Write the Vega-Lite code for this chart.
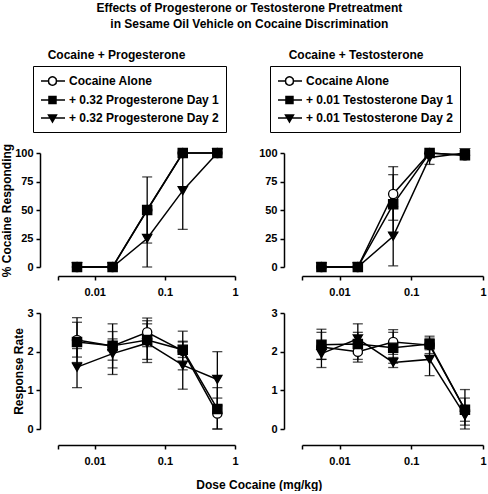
{
  "$schema": "https://vega.github.io/schema/vega-lite/v6.json",
  "padding": {"left": 0, "top": 1, "right": 0, "bottom": 0},
  "title": {"text": ["Effects of Progesterone or Testosterone Pretreatment", "in Sesame Oil Vehicle on Cocaine Discrimination"], "anchor": "middle", "fontSize": 12, "lineHeight": 16, "offset": 18, "dx": 6},
  "datasets": {
    "d": [
      {"h": "P", "m": "pct", "s": "Cocaine Alone", "dose": 0.0056, "v": 0},
      {"h": "P", "m": "pct", "s": "Cocaine Alone", "dose": 0.018, "v": 0},
      {"h": "P", "m": "pct", "s": "Cocaine Alone", "dose": 0.056, "v": 50},
      {"h": "P", "m": "pct", "s": "Cocaine Alone", "dose": 0.18, "v": 100},
      {"h": "P", "m": "pct", "s": "Cocaine Alone", "dose": 0.56, "v": 100},
      {"h": "P", "m": "pct", "s": "+ 0.32 Progesterone Day 1", "dose": 0.0056, "v": 0},
      {"h": "P", "m": "pct", "s": "+ 0.32 Progesterone Day 1", "dose": 0.018, "v": 0},
      {"h": "P", "m": "pct", "s": "+ 0.32 Progesterone Day 1", "dose": 0.056, "v": 50, "lo": 21, "hi": 79},
      {"h": "P", "m": "pct", "s": "+ 0.32 Progesterone Day 1", "dose": 0.18, "v": 100},
      {"h": "P", "m": "pct", "s": "+ 0.32 Progesterone Day 1", "dose": 0.56, "v": 100},
      {"h": "P", "m": "pct", "s": "+ 0.32 Progesterone Day 2", "dose": 0.0056, "v": 0},
      {"h": "P", "m": "pct", "s": "+ 0.32 Progesterone Day 2", "dose": 0.018, "v": 0},
      {"h": "P", "m": "pct", "s": "+ 0.32 Progesterone Day 2", "dose": 0.056, "v": 25, "lo": 0, "hi": 50},
      {"h": "P", "m": "pct", "s": "+ 0.32 Progesterone Day 2", "dose": 0.18, "v": 67, "lo": 33, "hi": 100},
      {"h": "P", "m": "pct", "s": "+ 0.32 Progesterone Day 2", "dose": 0.56, "v": 100},

      {"h": "T", "m": "pct", "s": "Cocaine Alone", "dose": 0.0056, "v": 0},
      {"h": "T", "m": "pct", "s": "Cocaine Alone", "dose": 0.018, "v": 0},
      {"h": "T", "m": "pct", "s": "Cocaine Alone", "dose": 0.056, "v": 64, "lo": 41, "hi": 88},
      {"h": "T", "m": "pct", "s": "Cocaine Alone", "dose": 0.18, "v": 100},
      {"h": "T", "m": "pct", "s": "Cocaine Alone", "dose": 0.56, "v": 98},
      {"h": "T", "m": "pct", "s": "+ 0.01 Testosterone Day 1", "dose": 0.0056, "v": 0},
      {"h": "T", "m": "pct", "s": "+ 0.01 Testosterone Day 1", "dose": 0.018, "v": 0},
      {"h": "T", "m": "pct", "s": "+ 0.01 Testosterone Day 1", "dose": 0.056, "v": 55, "lo": 30, "hi": 81},
      {"h": "T", "m": "pct", "s": "+ 0.01 Testosterone Day 1", "dose": 0.18, "v": 100},
      {"h": "T", "m": "pct", "s": "+ 0.01 Testosterone Day 1", "dose": 0.56, "v": 98},
      {"h": "T", "m": "pct", "s": "+ 0.01 Testosterone Day 2", "dose": 0.0056, "v": 0},
      {"h": "T", "m": "pct", "s": "+ 0.01 Testosterone Day 2", "dose": 0.018, "v": 0},
      {"h": "T", "m": "pct", "s": "+ 0.01 Testosterone Day 2", "dose": 0.056, "v": 27, "lo": 1, "hi": 53},
      {"h": "T", "m": "pct", "s": "+ 0.01 Testosterone Day 2", "dose": 0.18, "v": 96, "lo": 90, "hi": 100},
      {"h": "T", "m": "pct", "s": "+ 0.01 Testosterone Day 2", "dose": 0.56, "v": 100},

      {"h": "P", "m": "rate", "s": "Cocaine Alone", "dose": 0.0056, "v": 2.3, "lo": 1.72, "hi": 2.88},
      {"h": "P", "m": "rate", "s": "Cocaine Alone", "dose": 0.018, "v": 2.15, "lo": 1.58, "hi": 2.72},
      {"h": "P", "m": "rate", "s": "Cocaine Alone", "dose": 0.056, "v": 2.5, "lo": 2.13, "hi": 2.87},
      {"h": "P", "m": "rate", "s": "Cocaine Alone", "dose": 0.18, "v": 2.02, "lo": 1.53, "hi": 2.53},
      {"h": "P", "m": "rate", "s": "Cocaine Alone", "dose": 0.56, "v": 0.4, "lo": 0, "hi": 0.8},
      {"h": "P", "m": "rate", "s": "+ 0.32 Progesterone Day 1", "dose": 0.0056, "v": 2.25, "lo": 1.86, "hi": 2.76},
      {"h": "P", "m": "rate", "s": "+ 0.32 Progesterone Day 1", "dose": 0.018, "v": 2.15, "lo": 1.78, "hi": 2.52},
      {"h": "P", "m": "rate", "s": "+ 0.32 Progesterone Day 1", "dose": 0.056, "v": 2.3, "lo": 1.8, "hi": 2.8},
      {"h": "P", "m": "rate", "s": "+ 0.32 Progesterone Day 1", "dose": 0.18, "v": 2.05, "lo": 1.85, "hi": 2.25},
      {"h": "P", "m": "rate", "s": "+ 0.32 Progesterone Day 1", "dose": 0.56, "v": 0.52, "lo": 0, "hi": 1.07},
      {"h": "P", "m": "rate", "s": "+ 0.32 Progesterone Day 2", "dose": 0.0056, "v": 1.6, "lo": 1.07, "hi": 2.08},
      {"h": "P", "m": "rate", "s": "+ 0.32 Progesterone Day 2", "dose": 0.018, "v": 1.95, "lo": 1.41, "hi": 2.33},
      {"h": "P", "m": "rate", "s": "+ 0.32 Progesterone Day 2", "dose": 0.056, "v": 2.22, "lo": 1.72, "hi": 2.72},
      {"h": "P", "m": "rate", "s": "+ 0.32 Progesterone Day 2", "dose": 0.18, "v": 1.65, "lo": 1.03, "hi": 2.27},
      {"h": "P", "m": "rate", "s": "+ 0.32 Progesterone Day 2", "dose": 0.56, "v": 1.28, "lo": 0.6, "hi": 2.0},

      {"h": "T", "m": "rate", "s": "Cocaine Alone", "dose": 0.0056, "v": 2.12, "lo": 1.59, "hi": 2.58},
      {"h": "T", "m": "rate", "s": "Cocaine Alone", "dose": 0.018, "v": 2.0, "lo": 1.73, "hi": 2.3},
      {"h": "T", "m": "rate", "s": "Cocaine Alone", "dose": 0.056, "v": 2.25, "lo": 1.93, "hi": 2.57},
      {"h": "T", "m": "rate", "s": "Cocaine Alone", "dose": 0.18, "v": 2.17, "lo": 1.95, "hi": 2.4},
      {"h": "T", "m": "rate", "s": "Cocaine Alone", "dose": 0.56, "v": 0.5, "lo": 0, "hi": 1.02},
      {"h": "T", "m": "rate", "s": "+ 0.01 Testosterone Day 1", "dose": 0.0056, "v": 2.18, "lo": 1.8, "hi": 2.5},
      {"h": "T", "m": "rate", "s": "+ 0.01 Testosterone Day 1", "dose": 0.018, "v": 2.2, "lo": 1.8, "hi": 2.5},
      {"h": "T", "m": "rate", "s": "+ 0.01 Testosterone Day 1", "dose": 0.056, "v": 2.1, "lo": 1.7, "hi": 2.5},
      {"h": "T", "m": "rate", "s": "+ 0.01 Testosterone Day 1", "dose": 0.18, "v": 2.2, "lo": 2.05, "hi": 2.35},
      {"h": "T", "m": "rate", "s": "+ 0.01 Testosterone Day 1", "dose": 0.56, "v": 0.5, "lo": 0.2, "hi": 0.8},
      {"h": "T", "m": "rate", "s": "+ 0.01 Testosterone Day 2", "dose": 0.0056, "v": 1.95, "lo": 1.8, "hi": 2.1},
      {"h": "T", "m": "rate", "s": "+ 0.01 Testosterone Day 2", "dose": 0.018, "v": 2.33, "lo": 1.95, "hi": 2.72},
      {"h": "T", "m": "rate", "s": "+ 0.01 Testosterone Day 2", "dose": 0.056, "v": 1.72, "lo": 1.59, "hi": 1.85},
      {"h": "T", "m": "rate", "s": "+ 0.01 Testosterone Day 2", "dose": 0.18, "v": 1.8, "lo": 1.38, "hi": 2.22},
      {"h": "T", "m": "rate", "s": "+ 0.01 Testosterone Day 2", "dose": 0.56, "v": 0.35, "lo": 0.1, "hi": 0.6}
    ]
  },
  "vconcat": [
    {
      "title": {"text": "Dose Cocaine (mg/kg)", "orient": "bottom", "anchor": "middle", "offset": 14, "dx": 16, "fontSize": 12},
      "spacing": 19,
      "resolve": {"scale": {"x": "independent", "y": "independent", "shape": "independent", "fill": "independent", "stroke": "independent"}, "legend": {"shape": "independent", "fill": "independent", "stroke": "independent"}},
      "hconcat": [
        {
          "spacing": 10,
          "resolve": {"scale": {"x": "independent", "y": "independent", "shape": "independent", "fill": "independent", "stroke": "independent"}, "legend": {"shape": "independent", "fill": "independent", "stroke": "independent"}},
          "vconcat": [
            {
              "width": 177, "height": 114,
              "data": {"name": "d"},
              "transform": [{"filter": "datum.h === 'P' && datum.m === 'pct'"}],
              "title": {"text": "Cocaine + Progesterone", "anchor": "start", "dx": 47, "offset": 4},
              "resolve": {"scale": {"shape": "independent", "fill": "independent", "stroke": "independent"}, "legend": {"shape": "independent", "fill": "independent", "stroke": "independent"}},
              "encoding": {
                "x": {"field": "dose", "type": "quantitative", "scale": {"type": "log", "domain": [0.003, 1]}, "axis": {"values": [0.003, 0.01, 0.1, 1], "labelExpr": "datum.value < 0.005 ? '' : format(datum.value, '~g')", "title": null, "offset": 9}}
              },
              "layer": [
                {
                  "transform": [{"filter": "isValid(datum.lo)"}],
                  "mark": {"type": "errorbar", "color": "black", "rule": {"strokeWidth": 1.3}, "ticks": {"size": 10, "thickness": 1.3}},
                  "encoding": {
                    "y": {"field": "lo", "type": "quantitative", "scale": {"domain": [0, 100], "nice": false}, "axis": {"values": [0, 25, 50, 75, 100], "offset": 18, "title": "% Cocaine Responding"}},
                    "y2": {"field": "hi"}
                  }
                },
                {
                  "mark": {"type": "line", "color": "black", "strokeWidth": 1.5},
                  "encoding": {
                    "y": {"field": "v", "type": "quantitative", "scale": {"domain": [0, 100], "nice": false}, "axis": {"values": [0, 25, 50, 75, 100], "offset": 18, "title": "% Cocaine Responding"}},
                    "detail": {"field": "s"}
                  }
                },
                {
                  "mark": {"type": "point", "filled": true, "size": 85, "stroke": "black", "strokeWidth": 1.3, "opacity": 1},
                  "encoding": {
                    "y": {"field": "v", "type": "quantitative", "scale": {"domain": [0, 100], "nice": false}, "axis": {"values": [0, 25, 50, 75, 100], "offset": 18, "title": "% Cocaine Responding"}},
                    "shape": {"field": "s", "type": "nominal", "scale": {"domain": ["Cocaine Alone", "+ 0.32 Progesterone Day 1", "+ 0.32 Progesterone Day 2"], "range": ["circle", "square", "triangle-down"]}, "legend": null},
                    "fill": {"field": "s", "type": "nominal", "scale": {"domain": ["Cocaine Alone", "+ 0.32 Progesterone Day 1", "+ 0.32 Progesterone Day 2"], "range": ["white", "black", "black"]}, "legend": null}
                  }
                },
                {
                  "transform": [{"filter": "false"}],
                  "mark": {"type": "point", "filled": true, "size": 196, "strokeWidth": 1.5, "opacity": 1},
                  "encoding": {
                    "y": {"field": "v", "type": "quantitative", "scale": {"domain": [0, 100], "nice": false}, "axis": {"values": [0, 25, 50, 75, 100], "offset": 18, "title": "% Cocaine Responding"}},
                    "shape": {"field": "s", "type": "nominal", "scale": {"domain": ["Cocaine Alone", "+ 0.32 Progesterone Day 1", "+ 0.32 Progesterone Day 2"], "range": ["M-1,0H0.07M1.21,0H2.43M1.21,0A0.571,0.571 0 1,1 0.07,0A0.571,0.571 0 1,1 1.21,0Z", "M-1,0H2.43M0.14,-0.5H1.14V0.5H0.14Z", "M-1,0H2.43M0.07,-0.43H1.21L0.64,0.57Z"]},
                      "legend": {"orient": "none", "legendX": -25, "legendY": -87, "direction": "vertical", "title": null, "strokeColor": "black", "padding": 7, "rowPadding": 3, "symbolSize": 196, "symbolStrokeWidth": 1.5, "labelFontSize": 12, "labelFontWeight": "bold", "labelColor": "black", "labelOffset": 13, "labelLimit": 400}},
                    "fill": {"field": "s", "type": "nominal", "scale": {"domain": ["Cocaine Alone", "+ 0.32 Progesterone Day 1", "+ 0.32 Progesterone Day 2"], "range": ["white", "black", "black"]},
                      "legend": {"orient": "none", "legendX": -25, "legendY": -87, "direction": "vertical", "title": null, "strokeColor": "black", "padding": 7, "rowPadding": 3, "symbolSize": 196, "symbolStrokeWidth": 1.5, "labelFontSize": 12, "labelFontWeight": "bold", "labelColor": "black", "labelOffset": 13, "labelLimit": 400}},
                    "stroke": {"field": "s", "type": "nominal", "scale": {"domain": ["Cocaine Alone", "+ 0.32 Progesterone Day 1", "+ 0.32 Progesterone Day 2"], "range": ["black", "black", "black"]},
                      "legend": {"orient": "none", "legendX": -25, "legendY": -87, "direction": "vertical", "title": null, "strokeColor": "black", "padding": 7, "rowPadding": 3, "symbolSize": 196, "symbolStrokeWidth": 1.5, "labelFontSize": 12, "labelFontWeight": "bold", "labelColor": "black", "labelOffset": 13, "labelLimit": 400}}
                  }
                }
              ]
            },
            {
              "width": 177, "height": 116,
              "data": {"name": "d"},
              "transform": [{"filter": "datum.h === 'P' && datum.m === 'rate'"}],
              "encoding": {
                "x": {"field": "dose", "type": "quantitative", "scale": {"type": "log", "domain": [0.003, 1]}, "axis": {"values": [0.003, 0.01, 0.1, 1], "labelExpr": "datum.value < 0.005 ? '' : format(datum.value, '~g')", "title": null, "offset": 16}}
              },
              "layer": [
                {
                  "transform": [{"filter": "isValid(datum.lo)"}],
                  "mark": {"type": "errorbar", "color": "black", "rule": {"strokeWidth": 1.3}, "ticks": {"size": 10, "thickness": 1.3}},
                  "encoding": {
                    "y": {"field": "lo", "type": "quantitative", "scale": {"domain": [0, 3], "nice": false}, "axis": {"values": [0, 1, 2, 3], "offset": 18, "title": "Response Rate"}},
                    "y2": {"field": "hi"}
                  }
                },
                {
                  "mark": {"type": "line", "color": "black", "strokeWidth": 1.5},
                  "encoding": {
                    "y": {"field": "v", "type": "quantitative", "scale": {"domain": [0, 3], "nice": false}, "axis": {"values": [0, 1, 2, 3], "offset": 18, "title": "Response Rate"}},
                    "detail": {"field": "s"}
                  }
                },
                {
                  "mark": {"type": "point", "filled": true, "size": 85, "stroke": "black", "strokeWidth": 1.3, "opacity": 1},
                  "encoding": {
                    "y": {"field": "v", "type": "quantitative", "scale": {"domain": [0, 3], "nice": false}, "axis": {"values": [0, 1, 2, 3], "offset": 18, "title": "Response Rate"}},
                    "shape": {"field": "s", "type": "nominal", "scale": {"domain": ["Cocaine Alone", "+ 0.32 Progesterone Day 1", "+ 0.32 Progesterone Day 2"], "range": ["circle", "square", "triangle-down"]}, "legend": null},
                    "fill": {"field": "s", "type": "nominal", "scale": {"domain": ["Cocaine Alone", "+ 0.32 Progesterone Day 1", "+ 0.32 Progesterone Day 2"], "range": ["white", "black", "black"]}, "legend": null}
                  }
                }
              ]
            }
          ]
        },
        {
          "spacing": 10,
          "resolve": {"scale": {"x": "independent", "y": "independent", "shape": "independent", "fill": "independent", "stroke": "independent"}, "legend": {"shape": "independent", "fill": "independent", "stroke": "independent"}},
          "vconcat": [
            {
              "width": 181, "height": 114,
              "data": {"name": "d"},
              "transform": [{"filter": "datum.h === 'T' && datum.m === 'pct'"}],
              "title": {"text": "Cocaine + Testosterone", "anchor": "start", "dx": 30, "offset": 4},
              "resolve": {"scale": {"shape": "independent", "fill": "independent", "stroke": "independent"}, "legend": {"shape": "independent", "fill": "independent", "stroke": "independent"}},
              "encoding": {
                "x": {"field": "dose", "type": "quantitative", "scale": {"type": "log", "domain": [0.003, 1]}, "axis": {"values": [0.003, 0.01, 0.1, 1], "labelExpr": "datum.value < 0.005 ? '' : format(datum.value, '~g')", "title": null, "offset": 9}}
              },
              "layer": [
                {
                  "transform": [{"filter": "isValid(datum.lo)"}],
                  "mark": {"type": "errorbar", "color": "black", "rule": {"strokeWidth": 1.3}, "ticks": {"size": 10, "thickness": 1.3}},
                  "encoding": {
                    "y": {"field": "lo", "type": "quantitative", "scale": {"domain": [0, 100], "nice": false}, "axis": {"values": [0, 25, 50, 75, 100], "offset": 18, "title": null}},
                    "y2": {"field": "hi"}
                  }
                },
                {
                  "mark": {"type": "line", "color": "black", "strokeWidth": 1.5},
                  "encoding": {
                    "y": {"field": "v", "type": "quantitative", "scale": {"domain": [0, 100], "nice": false}, "axis": {"values": [0, 25, 50, 75, 100], "offset": 18, "title": null}},
                    "detail": {"field": "s"}
                  }
                },
                {
                  "mark": {"type": "point", "filled": true, "size": 85, "stroke": "black", "strokeWidth": 1.3, "opacity": 1},
                  "encoding": {
                    "y": {"field": "v", "type": "quantitative", "scale": {"domain": [0, 100], "nice": false}, "axis": {"values": [0, 25, 50, 75, 100], "offset": 18, "title": null}},
                    "shape": {"field": "s", "type": "nominal", "scale": {"domain": ["Cocaine Alone", "+ 0.01 Testosterone Day 1", "+ 0.01 Testosterone Day 2"], "range": ["circle", "square", "triangle-down"]}, "legend": null},
                    "fill": {"field": "s", "type": "nominal", "scale": {"domain": ["Cocaine Alone", "+ 0.01 Testosterone Day 1", "+ 0.01 Testosterone Day 2"], "range": ["white", "black", "black"]}, "legend": null}
                  }
                },
                {
                  "transform": [{"filter": "false"}],
                  "mark": {"type": "point", "filled": true, "size": 196, "strokeWidth": 1.5, "opacity": 1},
                  "encoding": {
                    "y": {"field": "v", "type": "quantitative", "scale": {"domain": [0, 100], "nice": false}, "axis": {"values": [0, 25, 50, 75, 100], "offset": 18, "title": null}},
                    "shape": {"field": "s", "type": "nominal", "scale": {"domain": ["Cocaine Alone", "+ 0.01 Testosterone Day 1", "+ 0.01 Testosterone Day 2"], "range": ["M-1,0H0.07M1.21,0H2.43M1.21,0A0.571,0.571 0 1,1 0.07,0A0.571,0.571 0 1,1 1.21,0Z", "M-1,0H2.43M0.14,-0.5H1.14V0.5H0.14Z", "M-1,0H2.43M0.07,-0.43H1.21L0.64,0.57Z"]},
                      "legend": {"orient": "none", "legendX": -32, "legendY": -87, "direction": "vertical", "title": null, "strokeColor": "black", "padding": 7, "rowPadding": 3, "symbolSize": 196, "symbolStrokeWidth": 1.5, "labelFontSize": 12, "labelFontWeight": "bold", "labelColor": "black", "labelOffset": 13, "labelLimit": 400}},
                    "fill": {"field": "s", "type": "nominal", "scale": {"domain": ["Cocaine Alone", "+ 0.01 Testosterone Day 1", "+ 0.01 Testosterone Day 2"], "range": ["white", "black", "black"]},
                      "legend": {"orient": "none", "legendX": -32, "legendY": -87, "direction": "vertical", "title": null, "strokeColor": "black", "padding": 7, "rowPadding": 3, "symbolSize": 196, "symbolStrokeWidth": 1.5, "labelFontSize": 12, "labelFontWeight": "bold", "labelColor": "black", "labelOffset": 13, "labelLimit": 400}},
                    "stroke": {"field": "s", "type": "nominal", "scale": {"domain": ["Cocaine Alone", "+ 0.01 Testosterone Day 1", "+ 0.01 Testosterone Day 2"], "range": ["black", "black", "black"]},
                      "legend": {"orient": "none", "legendX": -32, "legendY": -87, "direction": "vertical", "title": null, "strokeColor": "black", "padding": 7, "rowPadding": 3, "symbolSize": 196, "symbolStrokeWidth": 1.5, "labelFontSize": 12, "labelFontWeight": "bold", "labelColor": "black", "labelOffset": 13, "labelLimit": 400}}
                  }
                }
              ]
            },
            {
              "width": 181, "height": 116,
              "data": {"name": "d"},
              "transform": [{"filter": "datum.h === 'T' && datum.m === 'rate'"}],
              "encoding": {
                "x": {"field": "dose", "type": "quantitative", "scale": {"type": "log", "domain": [0.003, 1]}, "axis": {"values": [0.003, 0.01, 0.1, 1], "labelExpr": "datum.value < 0.005 ? '' : format(datum.value, '~g')", "title": null, "offset": 16}}
              },
              "layer": [
                {
                  "transform": [{"filter": "isValid(datum.lo)"}],
                  "mark": {"type": "errorbar", "color": "black", "rule": {"strokeWidth": 1.3}, "ticks": {"size": 10, "thickness": 1.3}},
                  "encoding": {
                    "y": {"field": "lo", "type": "quantitative", "scale": {"domain": [0, 3], "nice": false}, "axis": {"values": [0, 1, 2, 3], "offset": 18, "title": null}},
                    "y2": {"field": "hi"}
                  }
                },
                {
                  "mark": {"type": "line", "color": "black", "strokeWidth": 1.5},
                  "encoding": {
                    "y": {"field": "v", "type": "quantitative", "scale": {"domain": [0, 3], "nice": false}, "axis": {"values": [0, 1, 2, 3], "offset": 18, "title": null}},
                    "detail": {"field": "s"}
                  }
                },
                {
                  "mark": {"type": "point", "filled": true, "size": 85, "stroke": "black", "strokeWidth": 1.3, "opacity": 1},
                  "encoding": {
                    "y": {"field": "v", "type": "quantitative", "scale": {"domain": [0, 3], "nice": false}, "axis": {"values": [0, 1, 2, 3], "offset": 18, "title": null}},
                    "shape": {"field": "s", "type": "nominal", "scale": {"domain": ["Cocaine Alone", "+ 0.01 Testosterone Day 1", "+ 0.01 Testosterone Day 2"], "range": ["circle", "square", "triangle-down"]}, "legend": null},
                    "fill": {"field": "s", "type": "nominal", "scale": {"domain": ["Cocaine Alone", "+ 0.01 Testosterone Day 1", "+ 0.01 Testosterone Day 2"], "range": ["white", "black", "black"]}, "legend": null}
                  }
                }
              ]
            }
          ]
        }
      ]
    }
  ],
  "config": {
    "font": "Liberation Sans",
    "view": {"stroke": null},
    "axis": {"domainColor": "black", "domainWidth": 1.5, "tickColor": "black", "tickWidth": 1.5, "tickSize": 4, "labelFont": "Liberation Sans", "labelFontSize": 11, "labelFontWeight": "bold", "labelColor": "black", "labelFlush": false, "titleFont": "Liberation Sans", "titleFontSize": 12, "titleFontWeight": "bold", "titleColor": "black", "titlePadding": 1, "grid": false},
    "axisX": {"labelPadding": 6},
    "axisY": {"labelPadding": 3},
    "legend": {"labelFont": "Liberation Sans"},
    "title": {"font": "Liberation Sans", "fontSize": 12, "fontWeight": "bold", "color": "black"}
  }
}
